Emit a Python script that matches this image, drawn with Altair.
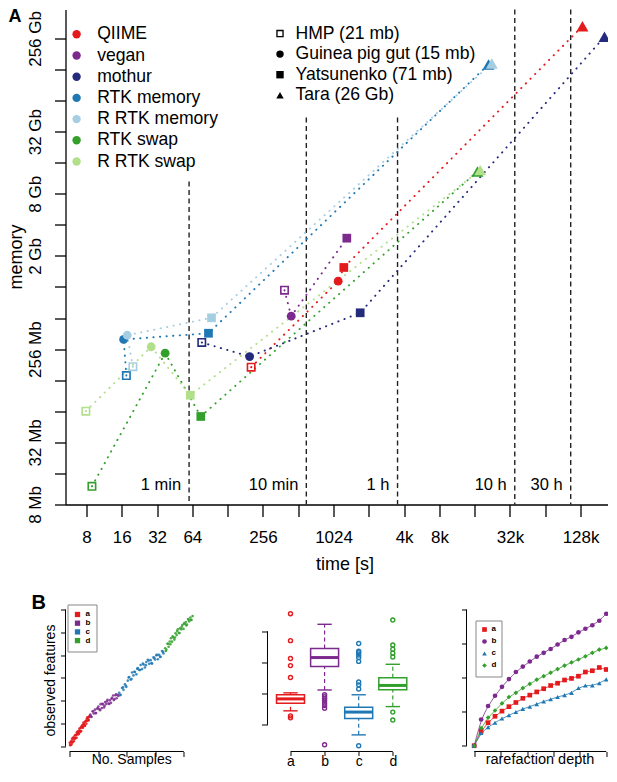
import json
import altair as alt
import pandas as pd

FONT = "Liberation Sans"

# ---------------- Panel A data ----------------
tools = ["QIIME", "vegan", "mothur", "RTK memory", "R RTK memory", "RTK swap", "R RTK swap"]
tool_colors = ["#E41A1C", "#7D2A8E", "#252B7C", "#1F78B4", "#A6CEE3", "#33A02C", "#B2DF8A"]
datasets = ["HMP (21 mb)", "Guinea pig gut (15 mb)", "Yatsunenko (71 mb)", "Tara (26 Gb)"]
OPEN_SQUARE = "M-1,-1H1V1H-1Z M-0.64,-0.64V0.64H0.64V-0.64Z"
dataset_shapes = [OPEN_SQUARE, "circle", "square", "triangle-up"]

# run time [s] and memory [MB], in dataset order (HMP, Guinea pig, Yatsunenko, Tara)
qiime_time = [203, 1122, 1253, 136000]
qiime_mem = [171, 1166, 1583, 344000]
vegan_time = [391, 446, 1329]
vegan_mem = [953, 534, 3043]
mothur_time = [77, 197, 1729, 209700]
mothur_mem = [297, 217, 576, 272000]
rtk_mem_time = [17.5, 16.6, 87.8, 21480]
rtk_mem_mem = [142, 318, 365, 146700]
r_rtk_mem_time = [19.9, 17.8, 93.2, 22930]
r_rtk_mem_mem = [173, 349, 515, 150000]
rtk_swap_time = [8.9, 37.5, 75.5, 17300]
rtk_swap_mem = [12.0, 234, 57, 13470]
r_rtk_swap_time = [7.9, 28.5, 61.4, 18250]
r_rtk_swap_mem = [64.2, 270, 91.6, 13870]

mark_times = [60, 600, 3600, 36000, 108000]
mark_labels = ["1 min", "10 min", "1 h", "10 h", "30 h"]
mark_tops = [10780, 44950, 44950, 499700, 499700]

x_ticks = [8, 16, 32, 64, 128, 256, 512, 1024, 2048, 4096, 8192, 16384, 32768, 65536, 131072]
x_labelled = [8, 16, 32, 64, 256, 1024, 4096, 8192, 32768, 131072]
y_ticks = [8, 16, 32, 64, 128, 256, 512, 1024, 2048, 4096, 8192, 16384, 32768, 65536, 131072, 262144]
y_labelled = [8, 32, 256, 2048, 8192, 32768, 262144]

# ---------------- Panel B data ----------------
grps = ["a", "b", "c", "d"]
grp_colors = ["#E41A1C", "#7D2A8E", "#1F78B4", "#33A02C"]

a_samples = [1, 3, 5, 7, 9, 11, 13, 15, 17, 19, 21, 23, 25, 27, 29, 31, 33, 35, 37, 39, 41, 43, 45, 47, 49, 51,
             53, 55, 57, 59, 61, 63, 65, 67, 69, 71,
             2, 6, 10, 14, 18, 22, 26, 30, 34, 38, 42, 46, 50, 54, 58, 62, 66, 70]
a_feats = [16, 5, 18, 8, 34, 21, 35, 23, 38, 49, 36, 51, 38, 57, 66, 57, 56, 78, 66, 81, 67, 84, 93, 82, 104, 93,
           90, 108, 110, 99, 122, 112, 127, 115, 129, 135,
           7, 23, 16, 40, 33, 49, 62, 52, 69, 64, 88, 85, 100, 91, 113, 126, 116, 130]
b_samples = [73, 77, 81, 85, 89, 93, 97, 101, 105, 109, 113, 117, 121, 125, 129, 133, 137, 141, 145, 149, 153,
             157, 161, 165, 169,
             75, 83, 91, 99, 107, 115, 123, 131, 139, 147, 155, 163, 171]
b_feats = [139, 129, 154, 144, 161, 146, 165, 175, 163, 185, 168, 184, 171, 194, 186, 204, 188, 202, 191, 213, 223,
           207, 224, 211, 226,
           132, 153, 146, 168, 159, 187, 178, 198, 186, 209, 203, 228, 221]
c_samples = [174, 179, 184, 189, 194, 199, 204, 209, 214, 219, 224, 229, 234, 239, 244, 249, 254, 259, 264, 269,
             274, 279, 284, 289, 294, 299, 304, 309, 314, 319, 324, 329,
             177, 187, 197, 207, 217, 227, 237, 247, 257, 267, 277, 287, 297, 307, 317, 327]
c_feats = [235, 226, 256, 248, 272, 261, 288, 304, 293, 324, 311, 326, 316, 343, 335, 357, 339, 359, 346, 370,
           380, 362, 378, 363, 390, 381, 400, 382, 401, 393, 418, 407,
           225, 259, 265, 302, 295, 327, 340, 335, 363, 356, 376, 365, 388, 401, 392, 414]
d_samples = [335, 339, 343, 347, 351, 355, 359, 363, 367, 371, 375, 379, 383, 387, 391, 395, 399, 403, 407, 411,
             415, 419, 423, 427, 431,
             337, 345, 353, 361, 369, 377, 385, 393, 401, 409, 417, 425]
d_feats = [430, 424, 450, 437, 460, 474, 459, 478, 468, 496, 488, 513, 497, 518, 513, 532, 515, 537, 545, 534,
           558, 548, 565, 554, 571,
           418, 450, 448, 482, 477, 505, 497, 524, 539, 530, 555, 555]

box_pos = [1, 2, 3, 4]
box_lo = [145.0, 211.9, 67.9, 158.6]
box_q1 = [169.7, 286.9, 120.4, 212.9]
box_med = [183.3, 315.9, 141.0, 226.4]
box_q3 = [196.5, 344.5, 156.4, 251.1]
box_hi = [202.7, 422.5, 196.5, 294.3]
a_out = [456.5, 370.1, 312.8, 290.0, 252.0, 128.7, 122.5]
b_out = [196.5, 190.3, 184.2, 177.1, 169.7, 161.7, 153.3, 36.2]
c_out = [360.9, 336.2, 331.3, 323.9, 315.9, 303.5, 237.5, 228.3, 215.0, 33.1]
d_out = [436.1, 355.9, 342.4, 330.0, 317.7, 141.0, 115.4]

depth = [0, 100, 200, 300, 400, 500, 600, 700, 800, 900, 1000, 1100, 1200, 1300, 1400, 1500, 1600, 1700, 1800, 1900]
a_rare = [0, 42.3, 67.7, 86.5, 101.6, 114.7, 127.0, 139.2, 148.5, 158.0, 167.4, 176.8, 183.5, 192.9, 197.6, 204.1,
          216.4, 220.2, 229.6, 223.8]
b_rare = [0, 77, 116.6, 146.7, 173, 195.6, 216.4, 232.3, 247.3, 261.5, 272.8, 284, 297.2, 310.4, 319.8, 333,
          343.4, 353.7, 366.8, 387.5]
c_rare = [0, 37.6, 54.6, 67.7, 80.0, 89.4, 98.8, 108.2, 114.7, 122.2, 129.8, 136.4, 143.0, 148.5, 155.2, 169.3,
          176.8, 176.8, 183.5, 194.8]
d_rare = [0, 51.7, 82.8, 103.5, 124.2, 143.0, 155.2, 169.3, 181.5, 193.8, 204.1, 214.5, 224.9, 235.2, 244.6, 253.2,
          262.5, 272.8, 282.2, 287.0]
rare_shapes = ["square", "circle", "triangle-up", "diamond"]

# ---------------- layout (pixels inside one canvas) ----------------
W, H = 550, 742          # whole drawing area; panel A plot occupies the top 495 px
A_H = 495
B_TOP = 592              # panel B plots: from B_TOP to H
B1_X = [0, 148]
B2_X = [202, 348]
B3_X = [401, 542]

# ---------------- Panel A ----------------
tool_times = [qiime_time, vegan_time, mothur_time, rtk_mem_time, r_rtk_mem_time, rtk_swap_time, r_rtk_swap_time]
tool_mems = [qiime_mem, vegan_mem, mothur_mem, rtk_mem_mem, r_rtk_mem_mem, rtk_swap_mem, r_rtk_swap_mem]
rows = []
for tool, ts, ms in zip(tools, tool_times, tool_mems):
    for i, (t, m) in enumerate(zip(ts, ms)):
        rows.append({"tool": tool, "dataset": datasets[i], "idx": i, "time": t, "mem": m})
dfA = pd.DataFrame(rows)
marks_df = pd.DataFrame({"time": mark_times, "mem": mark_tops, "label": mark_labels})

xA = alt.Scale(type="log", base=2, domain=[5.296, 260300], nice=False, range=[0, W])
yA = alt.Scale(type="log", base=2, domain=[8, 499700], nice=False, range=[A_H, 0])
tool_scale = alt.Scale(domain=tools, range=tool_colors)
shape_scale = alt.Scale(domain=datasets, range=dataset_shapes)

x_expr = ("indexof(%s, datum.value) >= 0 ? (datum.value >= 4096 ? (datum.value / 1024) + 'k' : '' + datum.value) : ''"
          % json.dumps(x_labelled))
y_expr = ("indexof(%s, datum.value) >= 0 ? (datum.value >= 1024 ? (datum.value / 1024) + ' Gb' : datum.value + ' Mb') : ''"
          % json.dumps(y_labelled))

axA_x = alt.Axis(orient="bottom", offset=A_H - H, values=x_ticks, labelExpr=x_expr, tickSize=12, tickWidth=1.3,
                 domainWidth=1.3, labelPadding=13, labelBaseline="top", labelFontSize=17, labelOverlap=False,
                 labelFlush=False, title="time [s]", titleFontSize=18, titleX=279, titleY=65,
                 titleBaseline="alphabetic", titleAlign="center", grid=False)
axA_y = alt.Axis(orient="left", offset=0, values=y_ticks, labelExpr=y_expr, tickSize=11, tickWidth=1.3,
                 domainWidth=1.3, labelAngle=270, labelAlign="center", labelBaseline="bottom", labelPadding=9.5,
                 labelFontSize=17, labelOverlap=False, labelFlush=False,
                 title="memory", titleFontSize=18, titleAngle=270, titleX=-43.5, titleY=247,
                 titleBaseline="alphabetic", titleAlign="center", grid=False)

X = alt.X("time:Q", scale=xA, axis=axA_x)
Y = alt.Y("mem:Q", scale=yA, axis=axA_y)

rulesA = alt.Chart(marks_df).mark_rule(strokeDash=[5, 3.5], strokeWidth=1.4, color="#222222").encode(
    x=X, y=Y, y2=alt.datum(8))
labelsA = alt.Chart(marks_df).mark_text(align="right", baseline="alphabetic", dx=-8, fontSize=16.5,
                                        color="black").encode(x=X, y=alt.value(480.5), text="label:N")
linesA = []
for tool, col in zip(tools, tool_colors):
    linesA.append(alt.Chart(dfA).transform_filter(alt.datum.tool == tool).mark_line(
        strokeDash=[0.3, 6.3], strokeWidth=1.9, strokeCap="round", color=col).encode(
        x=X, y=Y, order=alt.Order("idx:Q")))

color_legend = alt.Legend(orient="none", legendX=2.3, legendY=16, title=None, symbolType="circle", symbolSize=70,
                          symbolStrokeWidth=0, labelFontSize=17.6, rowPadding=2.2, labelOffset=11.8, padding=0,
                          labelLimit=300)
shape_legend = alt.Legend(orient="none", legendX=205.7, legendY=15.2, title=None, symbolSize=55,
                          symbolFillColor="black", symbolStrokeColor="black", symbolStrokeWidth=0,
                          labelFontSize=17.6, rowPadding=1.6, labelOffset=6.7, padding=0, labelLimit=300)

pt_sizes = [81, 78, 76, 144]
pointsA = []
for i, ds in enumerate(datasets):
    pointsA.append(alt.Chart(dfA).transform_filter(alt.datum.dataset == ds).mark_point(
        size=pt_sizes[i], filled=True, strokeWidth=0, opacity=1).encode(
        x=X, y=Y,
        shape=alt.Shape("dataset:N", scale=shape_scale, legend=shape_legend),
        color=alt.Color("tool:N", scale=tool_scale, legend=color_legend)))

one = pd.DataFrame({"t": ["A"]})
tagA = alt.Chart(one).mark_text(
    align="left", baseline="alphabetic", fontSize=18, fontWeight="bold", color="black").encode(
    x=alt.value(-57), y=alt.value(12.5), text="t:N")
# invisible anchors that fix the drawing's outer bounds
anchor_tl = alt.Chart(one).mark_rule(opacity=0, strokeWidth=1).encode(
    x=alt.value(-70), y=alt.value(-10), y2=alt.value(-9))
anchor_b = alt.Chart(one).mark_rule(opacity=0, strokeWidth=1).encode(
    x=alt.value(0), y=alt.value(H + 18), y2=alt.value(H + 19))

layerA = alt.layer(rulesA, labelsA, *linesA, *pointsA, tagA, anchor_tl, anchor_b)

# ---------------- Panel B1 ----------------
b1_rows = []
for g, xs, ys in zip(grps, [a_samples, b_samples, c_samples, d_samples], [a_feats, b_feats, c_feats, d_feats]):
    for xv, yv in zip(xs, ys):
        b1_rows.append({"grp": g, "samples": xv, "feats": yv})
dfB1 = pd.DataFrame(b1_rows)
grp_scale = alt.Scale(domain=grps, range=grp_colors)

b1x_scale = alt.Scale(domain=[-14, 504], nice=False, zero=False, range=B1_X)
b1y_scale = alt.Scale(domain=[-22.3, 635.1], nice=False, zero=False, range=[H, B_TOP])
b1x_axis = alt.Axis(orient="bottom", offset=0, values=[0, 100, 200, 300, 400], labels=False, domain=False,
                    grid=False, tickSize=5, tickWidth=1, title="No. Samples", titleFontSize=14,
                    titleX=B1_X[0] + 65.7, titleY=12, titleBaseline="alphabetic", titleAlign="center")
b1y_axis = alt.Axis(orient="left", offset=-B1_X[0], values=[0, 100, 200, 300, 400, 500, 600], labels=False,
                    domain=False, grid=False, tickSize=5, tickWidth=1, title="observed features", titleFontSize=14,
                    titleAngle=270, titleX=-11, titleY=B_TOP + 78.6, titleBaseline="alphabetic",
                    titleAlign="center")
B1X = alt.X("samples:Q", scale=b1x_scale, axis=b1x_axis)
B1Y = alt.Y("feats:Q", scale=b1y_scale, axis=b1y_axis)

b1_points = alt.Chart(dfB1).mark_circle(size=7, opacity=0.85).encode(
    x=B1X, y=B1Y,
    color=alt.Color("grp:N", scale=grp_scale,
                    legend=alt.Legend(orient="none", legendX=B1_X[0] + 2, legendY=B_TOP + 3, title=None,
                                      symbolType="square", symbolSize=28, labelFontSize=8,
                                      labelFontWeight="bold", rowPadding=0.7, labelOffset=4, padding=6,
                                      strokeColor="#888888", symbolOpacity=1)))
b1_ext = pd.DataFrame({"samples": [0], "feats": [0], "samples2": [400], "feats2": [600]})
b1_yline = alt.Chart(b1_ext).mark_rule(color="black", strokeWidth=1).encode(
    x=alt.value(B1_X[0]), y=B1Y, y2="feats2:Q")
b1_xline = alt.Chart(b1_ext).mark_rule(color="black", strokeWidth=1).encode(
    y=alt.value(H), x=B1X, x2="samples2:Q")
tagB = alt.Chart(pd.DataFrame({"t": ["B"]})).mark_text(
    align="left", baseline="alphabetic", fontSize=20, fontWeight="bold", color="black").encode(
    x=alt.value(B1_X[0] - 34), y=alt.value(B_TOP + 8), text="t:N")
layerB1 = alt.layer(b1_points, b1_yline, b1_xline, tagB)

# ---------------- Panel B2 ----------------
dfBox = pd.DataFrame({"grp": grps, "pos": box_pos, "lo": box_lo, "q1": box_q1, "med": box_med,
                      "q3": box_q3, "hi": box_hi})
out_rows = []
for g, p, vals in zip(grps, box_pos, [a_out, b_out, c_out, d_out]):
    for v in vals:
        out_rows.append({"grp": g, "pos": p, "val": v})
dfOut = pd.DataFrame(out_rows)

b2x_scale = alt.Scale(domain=[0.3255, 4.607], nice=False, zero=False, range=B2_X)
b2y_scale = alt.Scale(domain=[14.6, 495.6], nice=False, zero=False, range=[H, B_TOP])
b2x_axis = alt.Axis(orient="bottom", offset=0, values=box_pos,
                    labelExpr="%s[datum.value]" % json.dumps([""] + grps), domain=False,
                    grid=False, tickSize=4, tickWidth=1, labelFontSize=14, labelBaseline="top", labelPadding=-1,
                    title=None)
b2y_axis = alt.Axis(orient="left", offset=-B2_X[0], values=[100, 200, 300, 400], labels=False, domain=False,
                    grid=False, tickSize=6, tickWidth=1, title=None)
B2X = lambda f: alt.X(f, scale=b2x_scale, axis=b2x_axis)
B2Y = lambda f: alt.Y(f, scale=b2y_scale, axis=b2y_axis)
stroke_b2 = alt.Stroke("grp:N", scale=grp_scale, legend=None)

boxbase = alt.Chart(dfBox).transform_calculate(
    bl="datum.pos - 0.41", br="datum.pos + 0.41", cl="datum.pos - 0.21", cr="datum.pos + 0.21")
wh_lo = boxbase.mark_rule(strokeDash=[4, 3], strokeWidth=1.2).encode(
    x=B2X("pos:Q"), y=B2Y("lo:Q"), y2="q1:Q", stroke=stroke_b2)
wh_hi = boxbase.mark_rule(strokeDash=[4, 3], strokeWidth=1.2).encode(
    x=B2X("pos:Q"), y=B2Y("q3:Q"), y2="hi:Q", stroke=stroke_b2)
cap_lo = boxbase.mark_rule(strokeWidth=1.4).encode(
    x=B2X("cl:Q"), x2="cr:Q", y=B2Y("lo:Q"), stroke=stroke_b2)
cap_hi = boxbase.mark_rule(strokeWidth=1.4).encode(
    x=B2X("cl:Q"), x2="cr:Q", y=B2Y("hi:Q"), stroke=stroke_b2)
box = boxbase.mark_rect(fill="white", strokeWidth=1.5).encode(
    x=B2X("bl:Q"), x2="br:Q", y=B2Y("q1:Q"), y2="q3:Q", stroke=stroke_b2)
median = boxbase.mark_rule(strokeWidth=3).encode(
    x=B2X("bl:Q"), x2="br:Q", y=B2Y("med:Q"), stroke=stroke_b2)
outl = alt.Chart(dfOut).mark_point(shape="circle", size=16, strokeWidth=1.4, filled=False, opacity=1).encode(
    x=B2X("pos:Q"), y=B2Y("val:Q"), stroke=stroke_b2)
b2_ext = pd.DataFrame({"pos": [1], "val": [100], "pos2": [4], "val2": [400]})
b2_yline = alt.Chart(b2_ext).mark_rule(color="black", strokeWidth=1).encode(
    x=alt.value(B2_X[0]), y=B2Y("val:Q"), y2="val2:Q")
b2_xline = alt.Chart(b2_ext).mark_rule(color="black", strokeWidth=1).encode(
    y=alt.value(H), x=B2X("pos:Q"), x2="pos2:Q")
layerB2 = alt.layer(wh_lo, wh_hi, cap_lo, cap_hi, box, median, outl, b2_yline, b2_xline)

# ---------------- Panel B3 ----------------
r_rows = []
for g, vals in zip(grps, [a_rare, b_rare, c_rare, d_rare]):
    for dv, v in zip(depth, vals):
        r_rows.append({"grp": g, "depth": dv, "rich": v})
dfR = pd.DataFrame(r_rows)
b3x_scale = alt.Scale(domain=[-110.4, 1918], nice=False, zero=False, range=B3_X)
b3y_scale = alt.Scale(domain=[-16.9, 423.4], nice=False, zero=False, range=[H, B_TOP])
b3x_axis = alt.Axis(orient="bottom", offset=0, values=[0, 380, 760, 1140, 1520, 1900], labels=False, domain=False,
                    grid=False, tickSize=5, tickWidth=1, title="rarefaction depth", titleFontSize=14.5,
                    titleX=B3_X[0] + 73, titleY=12, titleBaseline="alphabetic", titleAlign="center")
b3y_axis = alt.Axis(orient="left", offset=-B3_X[0], values=[0, 100, 200, 300, 400], labels=False, domain=False,
                    grid=False, tickSize=5, tickWidth=1, title=None)
B3X = alt.X("depth:Q", scale=b3x_scale, axis=b3x_axis)
B3Y = alt.Y("rich:Q", scale=b3y_scale, axis=b3y_axis)
b3_leg = alt.Legend(orient="none", legendX=B3_X[0] + 9, legendY=B_TOP + 19, title=None, symbolSize=22,
                    labelFontSize=8, labelFontWeight="bold", rowPadding=0, labelOffset=3, padding=5,
                    strokeColor="#888888", symbolOpacity=1)
b3_lines = []
for g, col in zip(grps, grp_colors):
    b3_lines.append(alt.Chart(dfR).transform_filter(alt.datum.grp == g).mark_line(
        interpolate="basis", strokeWidth=0.8, color=col).encode(x=B3X, y=B3Y))
b3_points = alt.Chart(dfR).mark_point(filled=True, size=22, opacity=1).encode(
    x=B3X, y=B3Y, color=alt.Color("grp:N", scale=grp_scale, legend=b3_leg),
    shape=alt.Shape("grp:N", scale=alt.Scale(domain=grps, range=rare_shapes), legend=b3_leg))
b3_ext = pd.DataFrame({"depth": [0], "rich": [0], "depth2": [1900], "rich2": [400]})
b3_yline = alt.Chart(b3_ext).mark_rule(color="black", strokeWidth=1).encode(
    x=alt.value(B3_X[0]), y=B3Y, y2="rich2:Q")
b3_xline = alt.Chart(b3_ext).mark_rule(color="black", strokeWidth=1).encode(
    y=alt.value(H), x=B3X, x2="depth2:Q")
layerB3 = alt.layer(*b3_lines, b3_points, b3_yline, b3_xline)

chart = alt.layer(layerA, layerB1, layerB2, layerB3).resolve_scale(
    x="independent", y="independent", color="independent", stroke="independent", shape="independent"
).resolve_axis(x="independent", y="independent"
).resolve_legend(color="independent", stroke="independent", shape="independent"
).properties(width=W, height=H, padding={"left": -12.5, "top": -8.5, "right": -7.65, "bottom": -2}
).configure(font=FONT
).configure_view(stroke=None
).configure_axis(domainColor="black", tickColor="black", labelColor="black", titleColor="black",
                 titleFontWeight="normal", labelFont=FONT, titleFont=FONT
).configure_legend(labelFont=FONT, labelColor="black")

chart.save("out.html", embed_options={"renderer": "svg", "actions": False})
